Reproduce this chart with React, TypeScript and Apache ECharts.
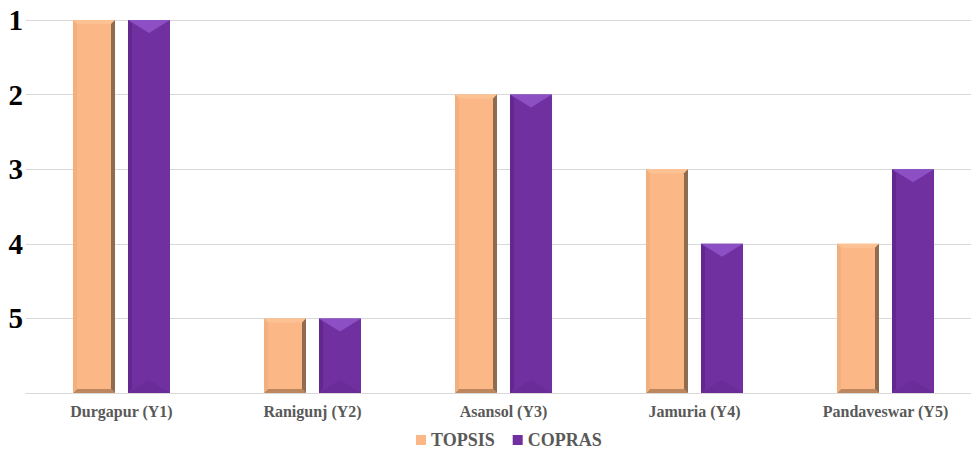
import React, { useEffect, useRef } from "react";
import * as echarts from "echarts";

// Ranking of the five locations by each method (1 = best)
const categories = ["Durgapur (Y1)", "Ranigunj (Y2)", "Asansol (Y3)", "Jamuria (Y4)", "Pandaveswar (Y5)"];
const topsisRanks = [1, 5, 2, 3, 4];
const coprasRanks = [1, 5, 2, 4, 3];
const rankTicks = [1, 2, 3, 4, 5];

const LOWEST = rankTicks.length + 1; // baseline of the inverted rank scale

type Palette = { face: string; top: string; bottom: string; left: string; right: string };

const topsisPalette: Palette = {
  face: "#FBB886",
  top: "#FDC294",
  bottom: "#BC875E",
  left: "#F2B07F",
  right: "#8F6B4F",
};
const coprasPalette: Palette = {
  face: "#7030A0",
  top: "#8C4FC4",
  bottom: "#6A2C98",
  left: "#62288F",
  right: "#7534A6",
};

function bevelBar(side: number, pal: Palette, topDepth: number, bevel: number) {
  return (params: any, api: any) => {
    const cat = api.value(0);
    const h = api.value(1);
    const topPt = api.coord([cat, h]);
    const basePt = api.coord([cat, 0]);
    const band = api.size([1, 0])[0];
    const w = band * 0.22;
    const cx = topPt[0] + side * band * 0.144;
    const x0 = cx - w / 2;
    const x1 = cx + w / 2;
    const y0 = topPt[1];
    const y1 = basePt[1];
    const b = bevel;
    const poly = (points: number[][], fill: string) => ({
      type: "polygon",
      shape: { points },
      style: { fill },
      silent: true,
    });
    const children: any[] = [
      { type: "rect", shape: { x: x0, y: y0, width: w, height: y1 - y0 }, style: { fill: pal.face } },
    ];
    if (topDepth > 0) {
      // pyramid-like lighting: triangles on top and bottom
      children.push(poly([[x0, y0], [x1, y0], [cx, y0 + topDepth]], pal.top));
      children.push(poly([[x0, y1], [x1, y1], [cx, y1 - topDepth]], pal.bottom));
      children.push(poly([[x0, y0], [x0 + b, y0 + b], [x0 + b, y1 - b], [x0, y1]], pal.left));
    } else {
      children.push(poly([[x0, y0], [x1, y0], [x1 - b, y0 + b], [x0 + b, y0 + b]], pal.top));
      children.push(poly([[x0, y1], [x1, y1], [x1 - b, y1 - b], [x0 + b, y1 - b]], pal.bottom));
      children.push(poly([[x0, y0], [x0 + b, y0 + b], [x0 + b, y1 - b], [x0, y1]], pal.left));
      children.push(poly([[x1, y0], [x1 - b, y0 + b], [x1 - b, y1 - b], [x1, y1]], pal.right));
    }
    return { type: "group", children };
  };
}

export default function App() {
  const ref = useRef<HTMLDivElement>(null);

  useEffect(() => {
    if (!ref.current) return;
    const chart = echarts.init(ref.current, undefined, { renderer: "svg" });
    const serif = "Liberation Serif";

    chart.setOption({
      animation: false,
      backgroundColor: "#ffffff",
      // the plot runs a little past the right edge of the visible frame
      grid: { left: 26, top: 20, width: 955, height: 373, containLabel: false },
      legend: {
        top: 426,
        left: 411,
        icon: "rect",
        itemWidth: 10,
        itemHeight: 10,
        itemGap: 18,
        itemStyle: { borderWidth: 0 },
        textStyle: {
          fontFamily: serif,
          fontWeight: "bold",
          fontSize: 18,
          lineHeight: 18,
          color: "#595959",
        },
        data: ["TOPSIS", "COPRAS"],
      },
      xAxis: {
        type: "category",
        data: categories,
        axisTick: { show: false },
        axisLine: { lineStyle: { color: "#d9d9d9", width: 1 } },
        axisLabel: {
          margin: 10,
          fontFamily: serif,
          fontWeight: "bold",
          fontSize: 16,
          color: "#595959",
        },
      },
      yAxis: {
        type: "value",
        min: 0,
        max: LOWEST - 1,
        interval: 1,
        axisLine: { show: false },
        axisTick: { show: false },
        splitLine: { lineStyle: { color: "#d9d9d9", width: 1 } },
        axisLabel: {
          margin: 3,
          fontFamily: serif,
          fontWeight: "bold",
          fontSize: 29,
          color: "#000000",
          formatter: (v: number) => (v === 0 ? "" : String(LOWEST - v)),
        },
      },
      series: [
        {
          name: "TOPSIS",
          type: "custom",
          itemStyle: { color: topsisPalette.face },
          renderItem: bevelBar(-1, topsisPalette, 0, 4),
          encode: { x: 0, y: 1 },
          data: topsisRanks.map((r, i) => [i, LOWEST - r]),
        },
        {
          name: "COPRAS",
          type: "custom",
          itemStyle: { color: coprasPalette.face },
          renderItem: bevelBar(1, coprasPalette, 13, 4),
          encode: { x: 0, y: 1 },
          data: coprasRanks.map((r, i) => [i, LOWEST - r]),
        },
      ],
    });

    return () => chart.dispose();
  }, []);

  return (
    <div
      style={{
        position: "fixed",
        left: 0,
        top: 0,
        width: 971,
        height: 450,
        overflow: "hidden",
        background: "#fff",
      }}
    >
      <div ref={ref} style={{ width: 990, height: 450 }} />
    </div>
  );
}
